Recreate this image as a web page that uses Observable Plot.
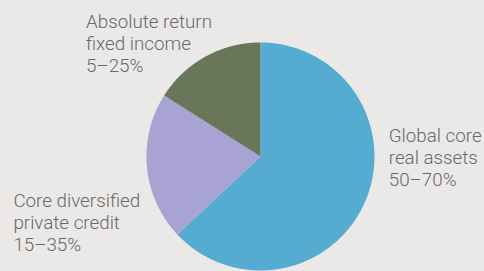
<!DOCTYPE html>
<html>
<head>
<meta charset="utf-8">
<script src="https://cdn.jsdelivr.net/npm/d3@7"></script>
<script src="https://cdn.jsdelivr.net/npm/@observablehq/plot@0.6"></script>
<style>
  html, body { margin: 0; padding: 0; background: #ebe9e7; }
  #chart svg { display: block; }
</style>
</head>
<body>
<div id="chart"></div>
<script>
// Data
const categories = ["Global core real assets", "Core diversified private credit", "Absolute return fixed income"];
const shares = [63, 21, 16];
const ranges = ["50–70%", "15–35%", "5–25%"];
const labelLines = [["Global core", "real assets"], ["Core diversified", "private credit"], ["Absolute return", "fixed income"]];
const colors = ["#55acd0", "#a8a3d2", "#6a765a"];

// Build slices with d3.pie (angle 0 = top, clockwise)
const pie = d3.pie().sort(null).value(d => d.value)(categories.map((c, i) => ({name: c, value: shares[i]})));
const polyPoints = [];
pie.forEach(s => {
  polyPoints.push({name: s.data.name, x: 0, y: 0});
  const n = 240;
  for (let k = 0; k <= n; k++) {
    const a = s.startAngle + (s.endAngle - s.startAngle) * k / n;
    polyPoints.push({name: s.data.name, x: Math.sin(a), y: Math.cos(a)});
  }
});

// Label placement (in radius units relative to pie centre)
const labelPos = {
  "Global core real assets": [1.125, 0.26],
  "Core diversified private credit": [-2.167, -0.31],
  "Absolute return fixed income": [-1.53, 1.262]
};
const labels = categories.map((c, i) => ({
  name: c,
  text: labelLines[i].join("\n") + "\n" + ranges[i],
  x: labelPos[c][0],
  y: labelPos[c][1]
}));

const chart = Plot.plot({
  width: 484,
  height: 271,
  margin: 0,
  style: {background: "#ebe9e7", fontFamily: "Roboto, sans-serif"},
  x: {domain: [-2.28, 1.965], axis: null},
  y: {domain: [-1.009, 1.368], axis: null},
  color: {domain: categories, range: colors},
  marks: [
    Plot.line(polyPoints, {x: "x", y: "y", z: "name", fill: "name", stroke: "none", curve: "linear"}),
    Plot.text(labels, {
      x: "x", y: "y", text: "text",
      textAnchor: "start", lineAnchor: "top",
      fontSize: 18.8, lineHeight: 1.16, fill: "#686868", fontWeight: 300
    })
  ]
});
document.getElementById("chart").appendChild(chart);
</script>
</body>
</html>
